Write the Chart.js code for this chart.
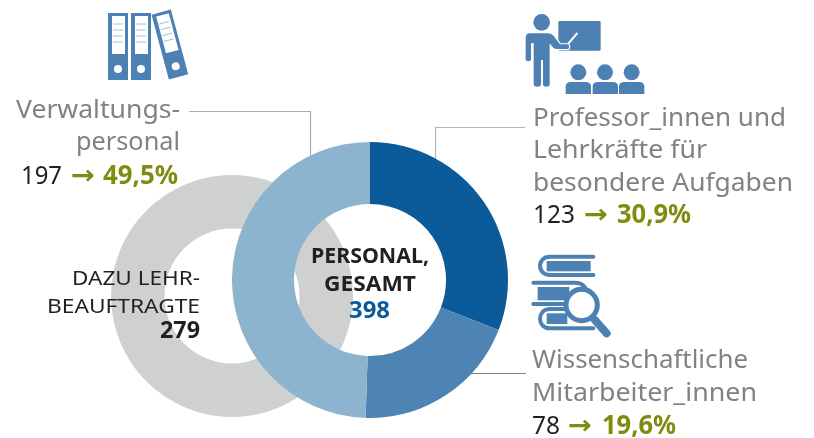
<!DOCTYPE html>
<html><head><meta charset="utf-8">
<script src="https://cdn.jsdelivr.net/npm/chart.js@4"></script>
<style>
html,body{margin:0;padding:0;background:#fff;width:814px;height:438px;overflow:hidden}
canvas{position:absolute}
svg{position:absolute;left:0;top:0}
text{font-family:"Noto Sans",sans-serif}
</style></head><body>
<svg id="lines" width="814" height="438" style="z-index:0">
<path d="M189 111.5H310.5V160" fill="none" stroke="#a9abae" stroke-width="1.2"/>
<path d="M525 127.5H435.5V160" fill="none" stroke="#b5b6b8" stroke-width="1.2"/>
<path d="M470 373.5H526" fill="none" stroke="#808285" stroke-width="1.2"/>
</svg>
<canvas id="gray" width="242" height="242" style="left:111px;top:175px;z-index:1"></canvas>
<canvas id="main" width="276" height="276" style="left:232px;top:142px;z-index:2"></canvas>
<svg id="over" width="814" height="438" style="z-index:3">
<g fill="#4d80b3">
<g id="binder"><rect x="108" y="13" width="20" height="67"/><rect x="112" y="16" width="13" height="38" fill="#fff"/><circle cx="118" cy="69" r="4" fill="#fff"/><path d="M113 24h10M113 30h10M113 36h10M113 42h10" stroke="#8fb3d3" stroke-width=".8"/></g>
<use href="#binder" x="23"/>
<g transform="rotate(-15 170 45) translate(52 -2)"><use href="#binder"/></g>
<g transform="translate(515 5) scale(.3333)">
<circle cx="80" cy="52" r="25"/>
<rect x="130" y="48" width="127" height="89" rx="4"/>
<path d="M160 116L187 84" stroke="#fff" stroke-width="6" fill="none" />
<path d="M45 85H100Q110 85 116 93L135 118H160Q165 125 160 132H125Q118 132 112 125L104 115V238Q104 245 94 245Q84 245 84 238V165H78V238Q78 245 67 245Q56 245 56 238V115H48V165Q40 172 32 165V100Q32 85 45 85Z" stroke="#fff" stroke-width="7" paint-order="stroke"/>
<circle cx="190" cy="202" r="24"/><circle cx="270" cy="202" r="24"/><circle cx="350" cy="202" r="24"/>
<path d="M152 267V245Q152 231 168 231H212Q228 231 228 245V267Z"/><path d="M233 267V245Q233 231 249 231H293Q309 231 309 245V267Z"/><path d="M312 267V245Q312 231 328 231H372Q388 231 388 245V267Z"/>
</g>
<g transform="translate(525 250) scale(.3333)">
<path d="M205 20H75C35 20 35 75 75 75H205" fill="none" stroke="#4d80b3" stroke-width="12" stroke-linecap="round"/>
<rect x="65" y="33" width="132" height="31"/>
<path d="M25 98H150C175 98 185 115 185 130M25 162H120" fill="none" stroke="#4d80b3" stroke-width="12" stroke-linecap="round"/>
<rect x="38" y="111" width="95" height="40"/>
<path d="M120 177H75C35 177 35 235 75 235H205" fill="none" stroke="#4d80b3" stroke-width="12" stroke-linecap="round"/>
<rect x="65" y="190" width="62" height="32"/>
<path d="M208 208L245 250" stroke="#4d80b3" stroke-width="24" stroke-linecap="round"/>
<circle cx="170" cy="165" r="47" fill="#fff" stroke="#4d80b3" stroke-width="15"/>
</g>
</g>
<g id="labels"></g>
</svg>
<script>
const categories = ["Professor_innen und Lehrkräfte für besondere Aufgaben", "Wissenschaftliche Mitarbeiter_innen", "Verwaltungspersonal"];
const staffValues = [123, 78, 197];
const staffPercents = ["30,9%", "19,6%", "49,5%"];
const staffColors = ["#0b5a99", "#4e84b4", "#8cb4ce"];
const lecturerLabel = ["Dazu Lehrbeauftragte"];
const lecturerValues = [279];
const totalValue = 398;

function doughnut(id, labels, data, colors, cutoutPx) {
  new Chart(document.getElementById(id), {
    type: "doughnut",
    data: { labels, datasets: [{ data, backgroundColor: colors, borderWidth: 0, hoverOffset: 0 }] },
    options: { responsive: false, animation: false, cutout: cutoutPx, radius: "100%",
      layout: { padding: 0 }, plugins: { legend: { display: false }, tooltip: { enabled: false } } }
  });
}
doughnut("gray", lecturerLabel, lecturerValues, ["#cfd1d0"], 67.5);
doughnut("main", categories, staffValues, staffColors, 76);

const G = "#808285", K = "#231f20", O = "#7f8c0f", B = "#0b5a99";
const ARROW = "DejaVu Sans";
// text, left x, baseline y, size, weight, colour, width
const T = [
 ["Verwaltungs-", 16, 118, 26, 400, G, 164],
 ["personal", 76, 150, 26, 400, G, 104],
 ["Professor_innen und", 533, 126, 26, 400, G, 253],
 ["Lehrkräfte für", 533, 158, 26, 400, G, 174],
 ["besondere Aufgaben", 533, 191, 26, 400, G, 260],
 ["Wissenschaftliche", 532, 368, 26, 400, G, 216],
 ["Mitarbeiter_innen", 532, 401, 26, 400, G, 225],
 [String(staffValues[2]), 21, 184, 26, 400, K, 41],
 ["→", 71, 184, 26, 700, O, 24, ARROW],
 [staffPercents[2], 103, 184, 26, 700, O, 75],
 [String(staffValues[0]), 533, 223, 26, 400, K, 42],
 ["→", 584, 223, 26, 700, O, 24, ARROW],
 [staffPercents[0], 617, 223, 26, 700, O, 74],
 [String(staffValues[1]), 532, 434, 26, 400, K, 28],
 ["→", 568, 434, 26, 700, O, 24, ARROW],
 [staffPercents[1], 602, 434, 26, 700, O, 74],
 ["DAZU LEHR-", 72, 285, 20.5, 400, K, 128],
 ["BEAUFTRAGTE", 47, 313, 20.5, 400, K, 153],
 [String(lecturerValues[0]), 160, 338, 23, 700, K, 40],
 ["PERSONAL,", 311, 263, 21, 700, K, 118],
 ["GESAMT", 324, 291, 21, 700, K, 92],
 [String(totalValue), 349, 318, 23, 700, B, 41]
];
const g = document.getElementById("labels");
for (const [s,x,y,size,w,c,len,font] of T) {
  const t = document.createElementNS("http://www.w3.org/2000/svg","text");
  t.textContent = s; t.setAttribute("x",x); t.setAttribute("y",y);
  t.setAttribute("font-size",size); t.setAttribute("font-weight",w);
  t.setAttribute("fill",c);
  t.setAttribute("textLength",len); t.setAttribute("lengthAdjust","spacingAndGlyphs");
  if (font) t.style.fontFamily = font;
  g.appendChild(t);
}
</script>
</body></html>
